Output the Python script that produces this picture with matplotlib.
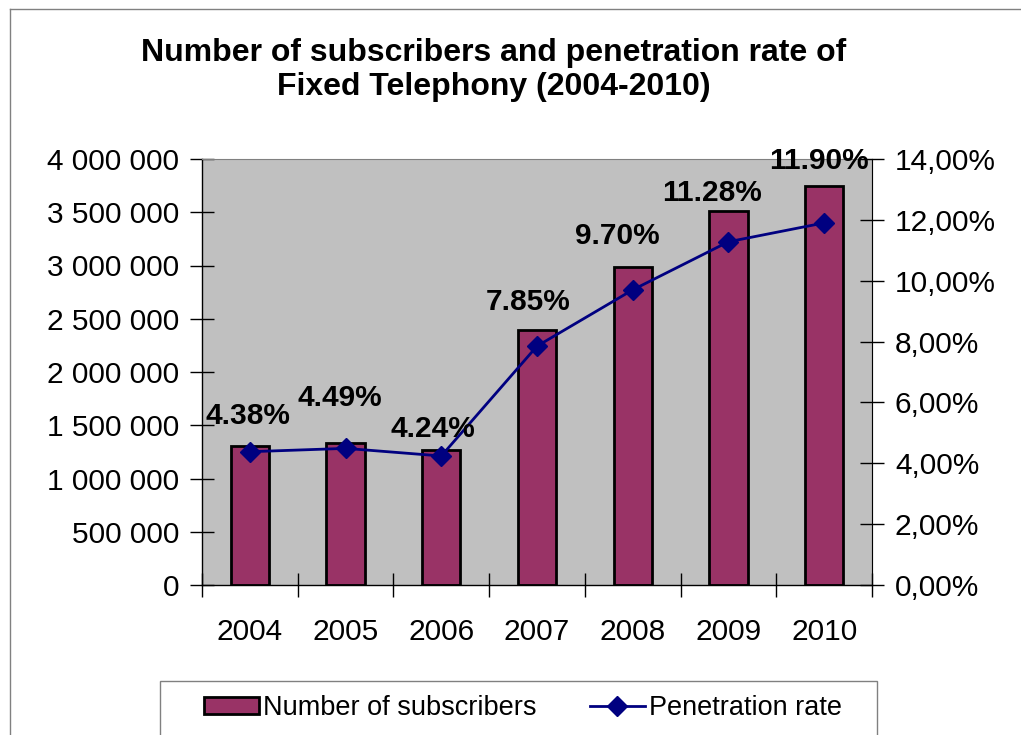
import matplotlib
matplotlib.use("Agg")
import matplotlib.pyplot as plt
from matplotlib.lines import Line2D
from matplotlib.patches import Patch, Rectangle
from matplotlib.ticker import FuncFormatter, FixedLocator

plt.rcParams["font.family"] = ["Liberation Sans", "DejaVu Sans"]

# Fixed telephony figures per year
years = ["2004", "2005", "2006", "2007", "2008", "2009", "2010"]
subscribers = [1306000, 1338000, 1263000, 2392000, 2988000, 3513000, 3750000]
penetration = [4.38, 4.49, 4.24, 7.85, 9.70, 11.28, 11.90]

# hand placed label offsets (points) for the percentage labels
label_offsets = [(-1.4, 26), (-4.3, 36), (-5.8, 19.4), (-6.5, 31.7),
                 (-10.8, 38.9), (-11.5, 35.3), (-3.6, 44.6)]

W, H = 1021, 735
fig = plt.figure(figsize=(W / 100, H / 100), dpi=100)
fig.patch.set_facecolor("white")

ax = fig.add_axes([202 / W, 1 - 585 / H, (872 - 202) / W, (585 - 159) / H])
ax.set_facecolor("#C0C0C0")

x = list(range(len(years)))
ax.bar(x, subscribers, width=0.40, color="#993366", edgecolor="black",
       linewidth=2, zorder=2)
ax.set_xlim(-0.5, len(years) - 0.5)
ax.set_ylim(0, 4000000)
ax.set_yticks(range(0, 4000001, 500000))
ax.yaxis.set_major_formatter(
    FuncFormatter(lambda v, p: f"{int(v):,}".replace(",", " ")))

# ticks between categories, labels at category centres
ax.xaxis.set_major_locator(FixedLocator([i - 0.5 for i in range(len(years) + 1)]))
ax.xaxis.set_major_formatter(FuncFormatter(lambda v, p: ""))
ax.xaxis.set_minor_locator(FixedLocator(x))
ax.set_xticklabels(years, minor=True)
ax.tick_params(axis="x", which="major", direction="inout", length=17, width=1)
ax.tick_params(axis="x", which="minor", length=0, pad=24, labelsize=21.5)
ax.tick_params(axis="y", direction="inout", length=17, width=1, pad=8,
               labelsize=21.5)

for side in ["left", "bottom"]:
    ax.spines[side].set_color("black")
    ax.spines[side].set_linewidth(1)
ax.spines["top"].set_color("#808080")
ax.spines["right"].set_color("#808080")

ax2 = ax.twinx()
ax2.plot(x, penetration, color="#000080", linewidth=2, marker="D",
         markersize=10, zorder=3)
ax2.set_ylim(0, 14)
ax2.set_yticks(range(0, 15, 2))
ax2.yaxis.set_major_formatter(
    FuncFormatter(lambda v, p: f"{v:.2f}%".replace(".", ",")))
ax2.tick_params(axis="y", direction="inout", length=17, width=1, pad=8,
                labelsize=21.5)
ax2.spines["right"].set_color("black")
ax2.spines["top"].set_visible(False)
ax2.spines["left"].set_visible(False)
ax2.spines["bottom"].set_visible(False)

for xi, val, off in zip(x, penetration, label_offsets):
    ax2.annotate(f"{val:.2f}%", (xi, val), xytext=off,
                 textcoords="offset points", ha="center", va="center",
                 fontsize=21.5, fontweight="bold", zorder=4,
                 annotation_clip=False)

fig.text(494 / W, 1 - 70 / H,
         "Number of subscribers and penetration rate of\nFixed Telephony (2004-2010)",
         ha="center", va="center", fontsize=23, fontweight="bold",
         linespacing=1.2)

# chart frame and legend box
fig.add_artist(Line2D([10 / W, 10 / W], [0, 1 - 9 / H], color="#808080",
                      linewidth=1, transform=fig.transFigure))
fig.add_artist(Line2D([10 / W, 1], [1 - 9 / H, 1 - 9 / H], color="#808080",
                      linewidth=1, transform=fig.transFigure))
fig.add_artist(Rectangle((160 / W, -0.02), (877 - 160) / W, 0.02 + 54 / H,
                         transform=fig.transFigure, fill=False,
                         edgecolor="#808080", linewidth=1))

handles = [
    Patch(facecolor="#993366", edgecolor="black", linewidth=2),
    Line2D([], [], color="#000080", linewidth=2, marker="D", markersize=10),
]
fig.legend(handles, ["Number of subscribers", "Penetration rate"],
           loc="center", bbox_to_anchor=(523 / W, 1 - 708 / H), ncol=2,
           frameon=False, fontsize=19.5, handlelength=2.0, handleheight=0.55,
           handletextpad=0.15, columnspacing=2.0)

fig.savefig("out.png", dpi=100)
